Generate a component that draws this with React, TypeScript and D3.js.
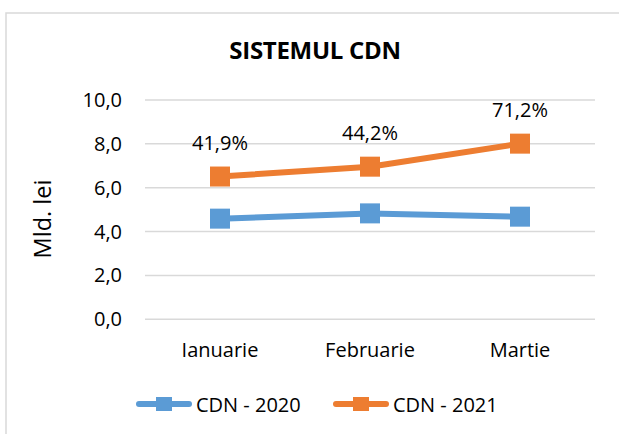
import * as d3 from 'd3';

const months = ['Ianuarie', 'Februarie', 'Martie'];
const cdn2020 = [4.59, 4.83, 4.68];
const cdn2021 = [6.51, 6.96, 8.01];
const growth = [41.9, 44.2, 71.2];
const yTicks = [0, 2, 4, 6, 8, 10];

const W = 619;
const H = 434;
const FONT = '"Open Sans", sans-serif';

const ro = d3.formatLocale({ decimal: ',', thousands: '.', grouping: [3], currency: ['', ' lei'] });
const fmtTick = ro.format('.1f');
const fmtPct = (v: number) => ro.format('.1f')(v) + '%';

const series = [
  { name: 'CDN - 2020', values: cdn2020, color: '#5B9BD5' },
  { name: 'CDN - 2021', values: cdn2021, color: '#ED7D31' },
];

export default function App() {
  const x = d3.scaleBand<string>().domain(months).range([145, 595]).padding(0);
  const y = d3.scaleLinear().domain([0, 10]).range([319.3, 100]);
  const cx = (m: string) => (x(m) ?? 0) + x.bandwidth() / 2;

  const line = d3
    .line<number>()
    .x((_, i) => cx(months[i]))
    .y((d) => y(d));

  const mk = 20;
  const legendItems = [
    { x0: 136, text: 196 },
    { x0: 333, text: 393 },
  ];

  return (
    <svg
      width={W}
      height={H}
      style={{ position: 'absolute', left: 0, top: 0, background: '#fff' }}
      fontFamily={FONT}
    >
      <rect x={6} y={13} width={W + 20} height={H + 20} fill="#fff" stroke="#D9D9D9" strokeWidth={1.5} />

      <text x={315} y={58.5} textAnchor="middle" fontSize={24} fontWeight="bold" fill="#000" letterSpacing={-0.3}>
        SISTEMUL CDN
      </text>

      {/* grid + y ticks */}
      {yTicks.map((t) => (
        <g key={t}>
          <line x1={145} x2={595} y1={y(t)} y2={y(t)} stroke="#D9D9D9" strokeWidth={1.5} />
          <text x={122} y={y(t)} dy="0.35em" textAnchor="end" fontSize={20} fill="#000">
            {fmtTick(t)}
          </text>
        </g>
      ))}

      <text
        transform="translate(51,219) rotate(-90)"
        textAnchor="middle"
        fontSize={23.5}
        fill="#000"
      >
        Mld. lei
      </text>

      {months.map((m) => (
        <text key={m} x={cx(m)} y={357} textAnchor="middle" fontSize={20} fill="#000">
          {m}
        </text>
      ))}

      {series.map((s) => (
        <g key={s.name}>
          <path d={line(s.values) ?? ''} fill="none" stroke={s.color} strokeWidth={6} strokeLinejoin="round" />
          {s.values.map((v, i) => (
            <rect key={i} x={cx(months[i]) - mk / 2} y={y(v) - mk / 2} width={mk} height={mk} fill={s.color} />
          ))}
        </g>
      ))}

      {cdn2021.map((v, i) => (
        <text key={i} x={cx(months[i])} y={y(v) - 26.5} textAnchor="middle" fontSize={20} fill="#000">
          {fmtPct(growth[i])}
        </text>
      ))}

      {series.map((s, i) => {
        const L = legendItems[i];
        return (
          <g key={s.name}>
            <line x1={L.x0 + 3} x2={L.x0 + 53} y1={404} y2={404} stroke={s.color} strokeWidth={6} strokeLinecap="round" />
            <rect x={L.x0 + 20} y={397} width={16} height={14} fill={s.color} />
            <text x={L.text} y={411.5} fontSize={20} fill="#000">
              {s.name}
            </text>
          </g>
        );
      })}
    </svg>
  );
}
